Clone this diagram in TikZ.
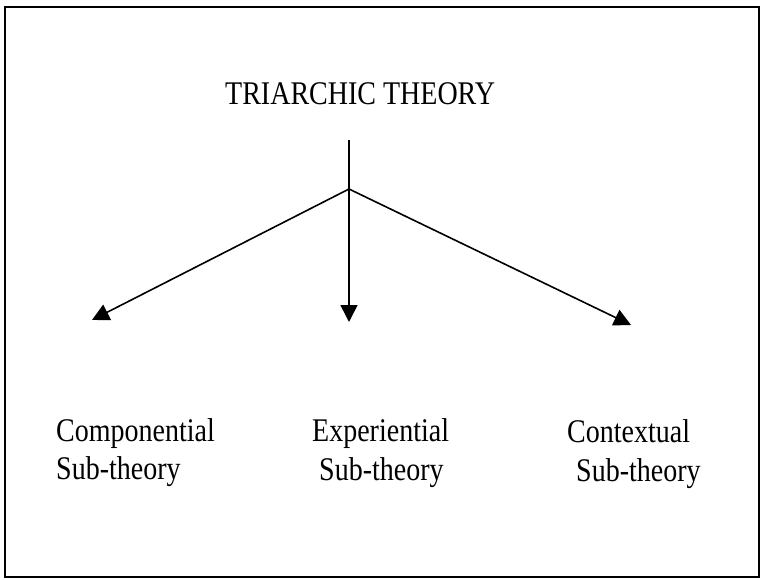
\documentclass[tikz,border=0pt]{standalone}
\usepackage{fontspec}
\setmainfont{Liberation Serif}
\usetikzlibrary{arrows.meta}

\newcommand{\tallword}[1]{\scalebox{1}[1.18]{#1}}

\tikzset{
    label/.style={anchor=base west, inner sep=0pt, font=\fontsize{28}{34}\selectfont},
    branch/.style={line width=1.6pt, -{Triangle[length=17pt, width=17pt]}}
}

\begin{document}
\begin{tikzpicture}[x=1pt, y=-1pt]
        \useasboundingbox (0,0) rectangle (763,580);
        \draw [line width=2pt] (5,7) rectangle (759,577);
        \node [label] (title) at (225,105) {\tallword{TRIARCHIC THEORY}};
        \coordinate (top) at (349,140);
        \coordinate (fork) at (349,189);
        \coordinate (lefttip) at (92,320);
        \coordinate (midtip) at (349,322);
        \coordinate (righttip) at (631,325);
        \draw [line width=1.6pt] (top) -- (fork);
        \draw [branch] (fork) -- (lefttip);
        \draw [branch] (fork) -- (midtip);
        \draw [branch] (fork) -- (righttip);
        \node [label] (comp) at (56,441) {\tallword{Componential}};
        \node [label] (compsub) at (56,479) {\tallword{Sub-theory}};
        \node [label] (expe) at (312,441) {\tallword{Experiential}};
        \node [label] (expesub) at (319,480) {\tallword{Sub-theory}};
        \node [label] (cont) at (567,442) {\tallword{Contextual}};
        \node [label] (contsub) at (576,481) {\tallword{Sub-theory}};
    \end{tikzpicture}
\end{document}
